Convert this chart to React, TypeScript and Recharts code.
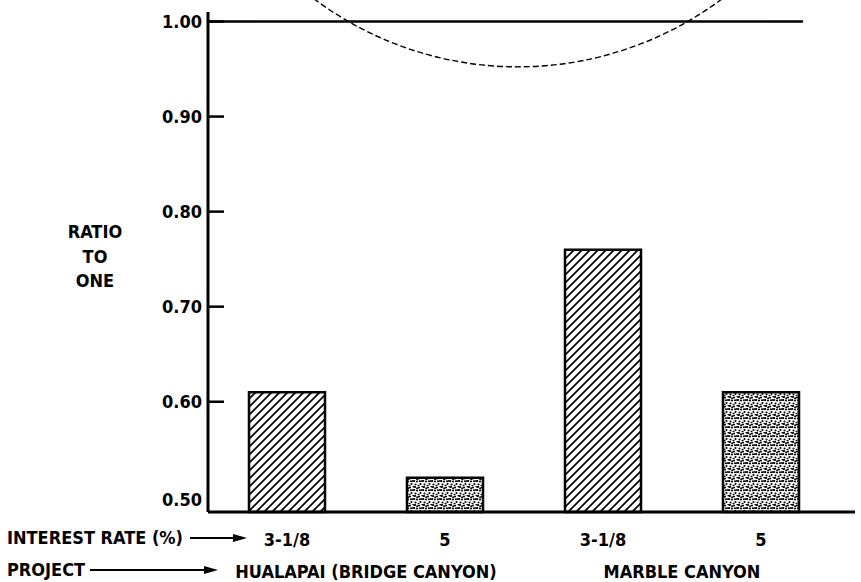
import React from "react";
import {
  BarChart,
  Bar,
  XAxis,
  YAxis,
  Cell,
  ReferenceLine,
  ReferenceDot,
  Customized,
} from "recharts";

// ── data ──
const BAR_IDS = ["h1", "h5", "m1", "m5"];
const RATES = ["3-1/8", "5", "3-1/8", "5"];
const PROJECTS = [
  "HUALAPAI (BRIDGE CANYON)",
  "HUALAPAI (BRIDGE CANYON)",
  "MARBLE CANYON",
  "MARBLE CANYON",
];
const RATIOS = [0.61, 0.52, 0.76, 0.61];
const Y_TICKS = [0.5, 0.6, 0.7, 0.8, 0.9, 1.0];
const Y_DOMAIN = [0.484, 1.01];
const ARC_CENTER = 1.31; // centre of the dashed arc, in ratio units

const data = BAR_IDS.map((id, i) => ({
  id,
  rate: RATES[i],
  project: PROJECTS[i],
  ratio: RATIOS[i],
}));

const FONT = "'DejaVu Sans Condensed', 'DejaVu Sans', sans-serif";
const textStyle = {
  fontFamily: FONT,
  fontWeight: 700,
  fontStretch: "condensed" as const,
  fontSize: 18,
  fill: "#000",
};

function YTick({ x, y, payload }: any) {
  const v = payload.value as number;
  return (
    <g>
      {v > 0.5 && (
        <line x1={x + 6} x2={x + 22} y1={y} y2={y} stroke="#000" strokeWidth={2.5} />
      )}
      <text x={x} y={y + (v === 0.5 ? 3 : 0)} dy={6.5} textAnchor="end" style={textStyle}>
        {v.toFixed(2)}
      </text>
    </g>
  );
}

function RateTick({ x, y, index }: any) {
  return (
    <text x={x} y={y + 32} textAnchor="middle" style={textStyle}>
      {RATES[index]}
    </text>
  );
}

function ProjectTick({ x, y, payload }: any) {
  return (
    <text x={x} y={y + 22} textAnchor="middle" style={textStyle}>
      {payload.value}
    </text>
  );
}

function Arrow({ x1, x2, y }: { x1: number; x2: number; y: number }) {
  return (
    <g>
      <line x1={x1} x2={x2 - 10} y1={y} y2={y} stroke="#000" strokeWidth={2} />
      <polygon points={`${x2},${y} ${x2 - 14},${y - 4} ${x2 - 14},${y + 4}`} fill="#000" />
    </g>
  );
}

const annotations = (
  <g>
    <text x={95} y={238} textAnchor="middle" style={textStyle}>RATIO</text>
    <text x={95} y={263} textAnchor="middle" style={textStyle}>TO</text>
    <text x={95} y={287} textAnchor="middle" style={textStyle}>ONE</text>
    <text x={7} y={544} style={textStyle}>INTEREST RATE (%)</text>
    <Arrow x1={190} x2={247} y={538} />
    <text x={7} y={576} style={textStyle}>PROJECT</text>
    <Arrow x1={90} x2={218} y={570} />
  </g>
);

const STIPPLE = [
  [1, 1], [5, 1.5], [8, 4], [3, 4.5], [6.5, 7], [1.5, 7.5], [4.5, 8.8], [8.5, 0.5], [0.3, 4],
  [6, 4.2], [3.2, 2.3],
];

export default function App() {
  return (
    <div style={{ position: "absolute", left: 0, top: 0, background: "#fff" }}>
      <BarChart
        width={861}
        height={582}
        data={data}
        margin={{ top: 12, right: 6, bottom: 0, left: 0 }}
        barSize={76}
      >
        <defs>
          <pattern id="hatch" patternUnits="userSpaceOnUse" width="8" height="8">
            <rect width="8" height="8" fill="#fff" />
            <path d="M-2,2 l4,-4 M0,8 l8,-8 M6,10 l4,-4" stroke="#000" strokeWidth={1.7} />
          </pattern>
          <pattern id="dots" patternUnits="userSpaceOnUse" width="9" height="9">
            <rect width="9" height="9" fill="#fff" />
            {STIPPLE.map(([cx, cy], i) => (
              <circle key={i} cx={cx} cy={cy} r={1.05} fill="#000" />
            ))}
          </pattern>
        </defs>
        <XAxis
          dataKey="id"
          axisLine={{ stroke: "#000", strokeWidth: 3 }}
          tickLine={false}
          tickSize={0}
          height={42}
          interval={0}
          padding={{ left: 0, right: 15 }}
          tick={<RateTick />}
        />
        <XAxis
          xAxisId="project"
          dataKey="project"
          allowDuplicatedCategory={false}
          axisLine={false}
          tickLine={false}
          tickSize={0}
          height={28}
          interval={0}
          padding={{ left: 0, right: 15 }}
          tick={<ProjectTick />}
        />
        <YAxis
          width={208}
          domain={Y_DOMAIN}
          ticks={Y_TICKS}
          interval={0}
          axisLine={{ stroke: "#000", strokeWidth: 3 }}
          tickLine={false}
          tickSize={0}
          tickMargin={6}
          tick={<YTick />}
        />
        <ReferenceLine
          y={1}
          shape={(p: any) => (
            <line
              x1={p.x1}
              y1={p.y1}
              x2={p.x2 - 53}
              y2={p.y2}
              stroke="#000"
              strokeWidth={2.5}
              strokeLinecap="round"
            />
          )}
        />
        <ReferenceDot
          x="h5"
          y={ARC_CENTER}
          ifOverflow="visible"
          shape={(p: any) => (
            <circle
              cx={p.cx + 73}
              cy={p.cy}
              r={340}
              fill="none"
              stroke="#000"
              strokeWidth={1.4}
              strokeDasharray="6 3"
            />
          )}
        />
        <Bar dataKey="ratio" stroke="#000" strokeWidth={2.5} isAnimationActive={false}>
          {data.map((d) => (
            <Cell key={d.id} fill={d.rate === "5" ? "url(#dots)" : "url(#hatch)"} />
          ))}
        </Bar>
        <Customized component={annotations} />
      </BarChart>
    </div>
  );
}
